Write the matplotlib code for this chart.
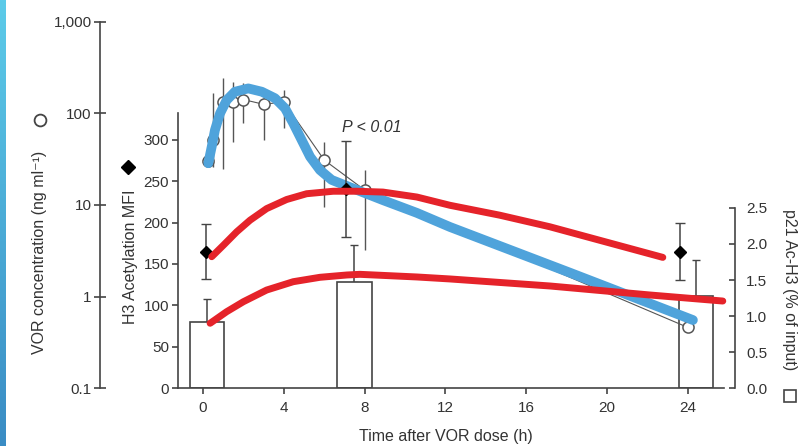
import numpy as np
import matplotlib.pyplot as plt
from matplotlib.colors import LinearSegmentedColormap
from matplotlib.ticker import FixedLocator, NullLocator

plt.rcParams['font.family'] = ['Liberation Sans', 'DejaVu Sans']

# values
vor_time = [0.25, 0.5, 1, 1.5, 2, 3, 4, 6, 8, 24]
vor_conc = [30, 51, 134, 135, 142, 126, 134, 31, 14.6, 0.46]
vor_low = [30, 26, 25, 49, 79, 51, 70, 9.5, 3.2, 0.46]
vor_high = [30, 168, 244, 221, 215, 170, 181, 49, 24, 0.46]

h3_time = [0.15, 7.1, 23.6]
h3_mfi = [165, 241, 165]
h3_err = [33, 58, 34]

p21_time = [0.2, 7.5, 24.4]
p21_pct = [0.92, 1.47, 1.28]
p21_err = [0.32, 0.52, 0.50]

# hand drawn overlay strokes (blue on VOR scale, red on MFI scale)
blue_t = [0.26, 0.43, 0.59, 0.84, 1.17, 1.58, 2.24, 2.91, 3.56, 4.06, 4.47, 4.89,
          5.30, 5.79, 6.37, 7.62, 8.91, 10.59, 12.23, 18.2, 24.26]
blue_v = [28.6, 43.4, 66, 100, 140, 173, 188, 173, 147, 114, 78, 51,
          33.7, 24.1, 18.8, 14.6, 11.3, 8.2, 5.75, 1.81, 0.553]

red_top_t = [0.43, 1.02, 1.67, 2.33, 3.15, 4.14, 5.13, 6.45, 7.61, 8.91, 10.59,
             12.23, 14.7, 17.18, 22.77]
red_top_v = [158.8, 173, 189, 203, 217, 228, 235, 238, 238, 237, 231,
             221, 209, 195, 158]

red_low_t = [0.35, 1.17, 2.0, 3.15, 4.47, 5.79, 7.12, 7.77, 10.59, 12.23, 17.18,
             22.13, 25.74]
red_low_v = [78.3, 92.3, 104.4, 118.5, 128.6, 133.9, 136.7, 137.5, 134.3, 131.9, 123.4,
             112.5, 105.2]

W, H = 803, 446
ink = '#333333'
line_col = '#444444'
rect = [178 / W, 58 / H, 546 / W, 366 / H]

fig = plt.figure(figsize=(W / 100, H / 100), dpi=100)

# slide edge stripe
stripe = fig.add_axes([0, 0, 6 / W, 1])
grad = np.linspace(0, 1, 256).reshape(-1, 1)
stripe.imshow(grad, aspect='auto',
              cmap=LinearSegmentedColormap.from_list('s', ['#5ccbe9', '#3a8cc4']))
stripe.axis('off')

ax_bar = fig.add_axes(rect)
ax_vor = fig.add_axes(rect, sharex=ax_bar)
ax_h3 = fig.add_axes(rect, sharex=ax_bar)

for a in (ax_vor, ax_h3):
    a.patch.set_visible(False)
    a.xaxis.set_visible(False)

for a in (ax_bar, ax_vor, ax_h3):
    for s in a.spines.values():
        s.set_visible(False)
        s.set_color(line_col)
        s.set_linewidth(1.2)

ax_bar.set_xlim(-1.24, 25.8)

# p21 bars (right axis)
ax_bar.bar(p21_time, p21_pct, width=1.7, facecolor='white', edgecolor=line_col, lw=1.2, zorder=2)
ax_bar.errorbar(p21_time, p21_pct, yerr=[[0] * 3, p21_err], fmt='none', ecolor=line_col,
                elinewidth=1.1, capsize=3, zorder=1)
ax_bar.set_ylim(0, 366 / 72)
ax_bar.spines['bottom'].set_visible(True)
ax_bar.spines['right'].set_visible(True)
ax_bar.spines['right'].set_position(('outward', 11 * 0.72))
ax_bar.spines['right'].set_bounds(0, 2.5)
ax_bar.yaxis.tick_right()
ax_bar.yaxis.set_major_locator(FixedLocator([0, 0.5, 1.0, 1.5, 2.0, 2.5]))
ax_bar.set_yticklabels(['0.0', '0.5', '1.0', '1.5', '2.0', '2.5'])
ax_bar.tick_params(axis='y', direction='in', length=4, width=1.2, pad=8, labelsize=11,
                   colors=line_col, labelcolor=ink)
ax_bar.set_xticks([0, 4, 8, 12, 16, 20, 24])
ax_bar.tick_params(axis='x', direction='out', length=4.5, width=1.2, pad=5, labelsize=11,
                   colors=line_col, labelcolor=ink)

# VOR concentration (log axis)
conc = np.array(vor_conc)
ax_vor.errorbar(vor_time, vor_conc, yerr=[conc - np.array(vor_low), np.array(vor_high) - conc],
                fmt='-o', color='#555555', lw=0.8, elinewidth=1, capsize=0, ms=8,
                mfc='white', mec='#555555', mew=1.1, zorder=3)
ax_vor.plot(blue_t, blue_v, color='#4fa3db', lw=7, solid_capstyle='round',
            solid_joinstyle='round', zorder=4, clip_on=False)
ax_vor.set_yscale('log')
ax_vor.set_ylim(0.1, 1000)
ax_vor.spines['left'].set_visible(True)
ax_vor.spines['left'].set_position(('outward', 78 * 0.72))
ax_vor.yaxis.set_major_locator(FixedLocator([0.1, 1, 10, 100, 1000]))
ax_vor.yaxis.set_minor_locator(NullLocator())
ax_vor.set_yticklabels(['0.1', '1', '10', '100', '1,000'])
ax_vor.tick_params(axis='y', direction='inout', length=8, width=1.2, pad=2, labelsize=11,
                   colors=line_col, labelcolor=ink)

# H3 acetylation MFI
ax_h3.errorbar(h3_time, h3_mfi, yerr=h3_err, fmt='D', color='black', ms=6.5,
               ecolor=line_col, elinewidth=1.1, capsize=3.5, zorder=3)
ax_h3.plot(red_top_t, red_top_v, color='#e5232a', lw=5, solid_capstyle='round',
           solid_joinstyle='round', zorder=5)
ax_h3.plot(red_low_t, red_low_v, color='#e5232a', lw=5, solid_capstyle='round',
           solid_joinstyle='round', zorder=5, clip_on=False)
ax_h3.set_ylim(0, 366 / 0.8267)
ax_h3.spines['left'].set_visible(True)
ax_h3.spines['left'].set_bounds(0, 333)
ax_h3.set_yticks([0, 50, 100, 150, 200, 250, 300])
ax_h3.tick_params(axis='y', direction='out', length=4.5, width=1.2, pad=2, labelsize=11,
                  colors=line_col, labelcolor=ink)

# axis titles with their symbols
fig.text(40 / W, 1 - 252 / H, 'VOR concentration (ng ml⁻¹)', rotation=90,
         ha='center', va='center', fontsize=11.5, color=ink)
fig.text(130 / W, 1 - 257 / H, 'H3 Acetylation MFI', rotation=90,
         ha='center', va='center', fontsize=11.5, color=ink)
fig.text(790 / W, 1 - 290 / H, 'p21 Ac-H3 (% of input)', rotation=270,
         ha='center', va='center', fontsize=11.5, color=ink)
fig.text(446 / W, 1 - 436 / H, 'Time after VOR dose (h)', ha='center', va='center',
         fontsize=11.5, color=ink)
fig.text(372 / W, 1 - 128 / H, 'P < 0.01', ha='center', va='center', fontsize=11.5,
         style='italic', color=ink)

sym = fig.add_axes([0, 0, 1, 1])
sym.set_xlim(0, W)
sym.set_ylim(H, 0)
sym.axis('off')
sym.plot([40], [120], 'o', ms=8.5, mfc='white', mec=line_col, mew=1.3)
sym.plot([128], [167], 'D', ms=7, color='black')
sym.plot([790], [396], 's', ms=8.5, mfc='white', mec=line_col, mew=1.2)

fig.savefig('out.png', dpi=100)
